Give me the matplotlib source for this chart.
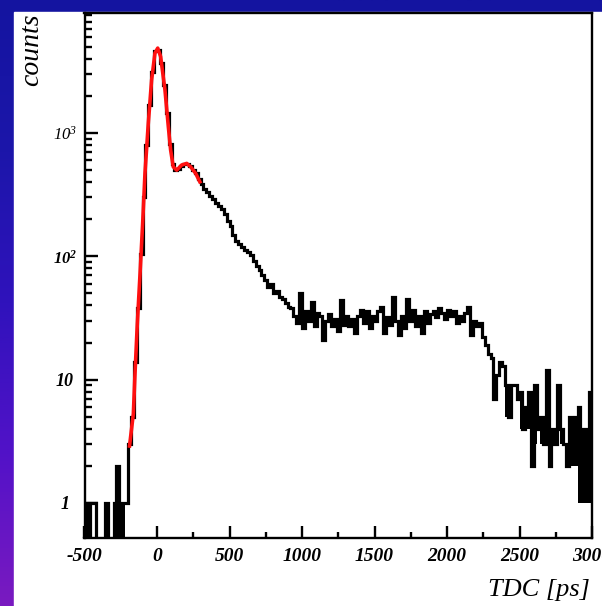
"""
TDC spectrum with the fitted prompt peak, log-scale counts.
Styled like a ROOT canvas pasted onto a blue slide background.
"""

import numpy as np
import matplotlib
matplotlib.use("Agg")
import matplotlib.pyplot as plt
from matplotlib.colors import LinearSegmentedColormap
from matplotlib.patches import Rectangle
from matplotlib.ticker import MultipleLocator, LogLocator, NullFormatter

# ── Data ──────────────────────────────────────────────────────────────────────

tdc_min, tdc_max, n_bins = -500, 3000, 175   # 20 ps bins

counts = [
    # -500 .. -300
    1, 0, 1, 1, 0, 0, 0, 1, 0, 0,
    # -300 .. -100
    1, 2, 1, 1, 1, 3, 5, 14, 38, 105,
    # -100 .. 100
    300, 800, 1700, 3150, 4600, 4750, 3700, 2450, 1450, 820,
    # 100 .. 300
    560, 505, 515, 540, 560, 565, 545, 505, 470, 420,
    # 300 .. 500
    385, 350, 330, 310, 290, 270, 255, 240, 222, 195,
    # 500 .. 700
    175, 150, 132, 125, 118, 112, 108, 102, 92, 84,
    # 700 .. 900
    77, 70, 64, 56, 60, 50, 52, 47, 45, 42,
    # 900 .. 1100
    39, 38, 33, 29, 50, 26, 36, 30, 43, 27,
    # 1100 .. 1300
    35, 33, 21, 30, 34, 27, 31, 25, 44, 28,
    # 1300 .. 1500
    33, 27, 31, 24, 33, 37, 29, 36, 26, 33,
    # 1500 .. 1700
    30, 36, 39, 24, 32, 28, 47, 30, 23, 33,
    # 1700 .. 1900
    26, 45, 30, 37, 27, 33, 24, 36, 29, 34,
    # 1900 .. 2100
    36, 32, 38, 35, 31, 37, 33, 36, 29, 33,
    # 2100 .. 2300
    30, 35, 39, 23, 30, 27, 29, 22, 19, 16,
    # 2300 .. 2500
    15, 7, 11, 14, 13, 9, 5, 9, 9, 7,
    # 2500 .. 2700
    8, 4, 6, 8, 2, 9, 4, 5, 3, 12,
    # 2700 .. 2900
    2, 4, 3, 9, 4, 3, 2, 5, 3, 5,
    # 2900 .. 3000
    6, 4, 4, 4, 8,
]

# lower edge of the solid black band where the fine binning fills in
# (bin index -> floor count)
band_bins = [10, 11, 12, 13, 145, 150, 152, 153, 155, 157, 161, 164,
             167, 168, 169, 170, 171, 172, 173, 174]
band_floor = [0, 0, 0, 0, 5, 4, 4, 4, 3, 3, 3, 3,
              2, 2, 2, 1, 1, 1, 1, 1]

fit_tdc = [-191, -163, -152, -136, -117, -99, -83, -60, -37, -14, 5, 25,
           55, 78, 94, 112, 136, 170, 205, 232, 267, 301]
fit_counts = [2.8, 5.3, 11, 28, 72, 184, 470, 1200, 2700, 4450, 4880, 4170,
              2230, 1130, 728, 532, 500, 550, 567, 532, 470, 390]

x_ticks = [-500, 0, 500, 1000, 1500, 2000, 2500, 3000]
y_ticks = [1, 10, 100, 1000]
y_tick_labels = ["1", "10", r"$\mathbf{10^{2}}$", r"$10^{3}$"]

# ── Style ─────────────────────────────────────────────────────────────────────

SERIF = "Liberation Serif"
plt.rcParams["mathtext.fontset"] = "custom"
plt.rcParams["mathtext.rm"] = f"{SERIF}:italic"
plt.rcParams["mathtext.it"] = f"{SERIF}:italic"
plt.rcParams["mathtext.bf"] = f"{SERIF}:italic:bold"

W, H = 602, 606
fig = plt.figure(figsize=(W / 100, H / 100), dpi=100)

# slide background + white canvas
bg = fig.add_axes([0, 0, 1, 1])
bg.set_axis_off()
slide = LinearSegmentedColormap.from_list(
    "slide", ["#1414a0", "#1c16aa", "#3012bc", "#5212c8", "#7a1ac0"])
bg.imshow(np.linspace(0, 1, 256).reshape(-1, 1), aspect="auto", cmap=slide,
          extent=[0, 1, 0, 1], origin="upper")
bg.add_patch(Rectangle((14 / W, 0), 1, (H - 12) / H, color="white"))
bg.set_xlim(0, 1)
bg.set_ylim(0, 1)

ax = fig.add_axes([84.5 / W, (H - 538) / H, (592 - 84.5) / W, (538 - 13) / H])
ax.set_facecolor("none")

# ── Histogram ─────────────────────────────────────────────────────────────────

edges = np.linspace(tdc_min, tdc_max, n_bins + 1)
bin_w = edges[1] - edges[0]
hi = np.array(counts, dtype=float)
floor_draw = 0.05  # zero-count bins drop below the axis

ax.stairs(np.where(hi > 0, hi, floor_draw), edges, baseline=None,
          color="black", lw=2.3)

idx = np.array(band_bins)
lo = np.array(band_floor, dtype=float)
lo = np.where(lo > 0, lo, floor_draw)
ax.bar(edges[idx], hi[idx] - lo, bottom=lo, width=bin_w, align="edge",
       color="black", lw=0)

ax.plot(fit_tdc, fit_counts, color="#ff1010", lw=2.6, solid_capstyle="butt")

# ── Axes ──────────────────────────────────────────────────────────────────────

ax.set_yscale("log")
ax.set_xlim(tdc_min, tdc_max)
ax.set_ylim(0.52, 9400)

for sp in ax.spines.values():
    sp.set_linewidth(1.7)

ax.xaxis.set_major_locator(MultipleLocator(500))
ax.xaxis.set_minor_locator(MultipleLocator(250))
ax.yaxis.set_minor_locator(LogLocator(base=10, subs=np.arange(2, 10)))
ax.yaxis.set_minor_formatter(NullFormatter())

ax.tick_params(which="both", direction="in", top=False, right=False, width=1.7)
ax.tick_params(axis="x", which="major", length=8.6, pad=7)
ax.tick_params(axis="x", which="minor", length=4.3)
ax.tick_params(axis="y", which="major", length=9.4, pad=14)
ax.tick_params(axis="y", which="minor", length=5.0)

ax.set_xticks(x_ticks)
ax.set_xticklabels([str(t) for t in x_ticks], family=SERIF, style="italic",
                   weight="bold", fontsize=14)

ax.set_yticks(y_ticks)
ax.set_yticklabels(y_tick_labels)
for lbl, size in zip(ax.get_yticklabels(), [13, 13, 12, 12]):
    lbl.set_family(SERIF)
    lbl.set_style("italic")
    lbl.set_weight("bold")
    lbl.set_fontsize(size)
    lbl.set_horizontalalignment("center")

ax.set_xlabel("TDC [ps]", family=SERIF, style="italic", fontsize=19)
ax.xaxis.set_label_coords(0.996, -0.078)
ax.xaxis.label.set_horizontalalignment("right")
ax.xaxis.label.set_verticalalignment("top")

ax.set_ylabel("counts", family=SERIF, style="italic", fontsize=20)
ax.yaxis.set_label_coords(-0.08, 1.0)
ax.yaxis.label.set_horizontalalignment("right")

fig.savefig("out.png", dpi=100)
plt.close(fig)
